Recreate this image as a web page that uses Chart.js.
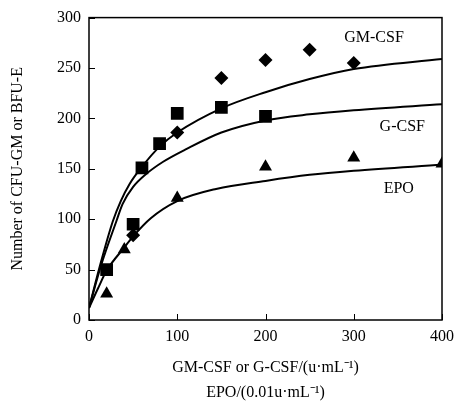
<!DOCTYPE html>
<html>
<head>
<meta charset="utf-8">
<script src="https://cdn.jsdelivr.net/npm/chart.js@4"></script>
<style>
  html, body { margin: 0; padding: 0; background: #fff; }
  #wrap { width: 464px; height: 409px; }
</style>
</head>
<body>
<div id="wrap"><canvas id="chart_colonies"></canvas></div>
<script>
// measured points (x = concentration, y = colonies)
var diamondX = [50, 100, 150, 200, 250, 300];
var diamondY = [84, 186, 240, 258, 268, 255];
var squareX = [20, 50, 60, 80, 100, 150, 200];
var squareY = [50, 95, 151, 175, 205, 211, 202];
var triangleX = [20, 40, 100, 200, 300, 400];
var triangleY = [26, 70, 121, 152, 161, 155];

// fitted curves
var upperCurveX = [0, 14, 27, 36, 46, 60, 80, 100, 150, 200, 250, 300, 400];
var upperCurveY = [12, 59, 98, 118, 135, 152, 172, 186, 210, 226, 239, 249, 259];
var middleCurveX = [0, 14, 31, 38, 50, 65, 84, 109, 150, 200, 250, 300, 400];
var middleCurveY = [12, 55, 98, 115, 132, 145, 157, 169, 186, 198, 204, 208, 214];
var lowerCurveX = [0, 10, 20, 40, 50, 70, 100, 144, 200, 250, 300, 400];
var lowerCurveY = [12, 31, 49, 72, 83, 101, 118, 130, 138, 144, 148, 154];

var curveNames = ['GM-CSF', 'G-CSF', 'EPO'];
var labelX = [323, 355, 351];
var labelY = [280, 192, 130];

var xTicks = [0, 100, 200, 300, 400];
var yTicks = [0, 50, 100, 150, 200, 250, 300];

function pts(xs, ys) {
    return xs.map(function (x, i) { return { x: x, y: ys[i] }; });
}

function curve(xs, ys) {
    return {
        type: 'line',
        data: pts(xs, ys),
        borderColor: '#000',
        borderWidth: 2,
        pointRadius: 0,
        fill: false,
        cubicInterpolationMode: 'monotone'
    };
}

function marks(xs, ys, style, r) {
    return {
        type: 'scatter',
        data: pts(xs, ys),
        pointStyle: style,
        pointRadius: r,
        backgroundColor: '#000',
        borderColor: '#000',
        borderWidth: 0
    };
}

var serif = 'Liberation Serif, Times New Roman, serif';

var chart_colonies = new Chart(document.getElementById('chart_colonies'), {
    type: 'scatter',
    data: {
        datasets: [
            curve(upperCurveX, upperCurveY),
            curve(middleCurveX, middleCurveY),
            curve(lowerCurveX, lowerCurveY),
            marks(diamondX, diamondY, 'rectRot', 7),
            marks(squareX, squareY, 'rect', 9),
            marks(triangleX, triangleY, 'triangle', 7.5)
        ]
    },
    options: {
        animation: false,
        responsive: true,
        maintainAspectRatio: false,
        layout: { padding: { top: 15, right: 22, left: 0, bottom: 0 } },
        plugins: {
            legend: { display: false },
            tooltip: { enabled: false }
        },
        scales: {
            x: {
                type: 'linear',
                min: 0,
                max: 400,
                afterBuildTicks: function (s) { s.ticks = xTicks.map(function (v) { return { value: v }; }); },
                afterFit: function (s) { s.height = 89; },
                grid: { display: false, drawTicks: false },
                border: { display: false },
                ticks: { color: '#000', padding: 7, font: { family: serif, size: 16 }, maxRotation: 0 },
                title: {
                    display: true,
                    text: ['GM-CSF or G-CSF/(u\u00b7mL\u207b\u00b9)', 'EPO/(0.01u\u00b7mL\u207b\u00b9)'],
                    color: '#000',
                    font: { family: serif, size: 16, lineHeight: 1.6 },
                    padding: { top: 0, bottom: 3 }
                }
            },
            y: {
                type: 'linear',
                min: 0,
                max: 300,
                afterBuildTicks: function (s) { s.ticks = yTicks.map(function (v) { return { value: v }; }); },
                afterFit: function (s) { s.width = 89; },
                grid: { display: false, drawTicks: false },
                border: { display: false },
                ticks: { color: '#000', padding: 8, font: { family: serif, size: 16 } },
                title: {
                    display: true,
                    text: 'Number of CFU-GM or BFU-E',
                    color: '#000',
                    font: { family: serif, size: 16 },
                    padding: { top: 8, bottom: 0 }
                }
            }
        }
    },
    plugins: [{
        id: 'frameAndLabels',
        beforeDraw: function (chart) {
            var ctx = chart.ctx;
            ctx.save();
            ctx.fillStyle = 'white';
            ctx.fillRect(0, 0, chart.width, chart.height);
            ctx.restore();
        },
        afterDraw: function (chart) {
            var ctx = chart.ctx, a = chart.chartArea;
            var xs = chart.scales.x, ys = chart.scales.y;
            ctx.save();
            ctx.strokeStyle = '#000';
            ctx.lineWidth = 1.5;
            ctx.strokeRect(a.left, a.top, a.right - a.left, a.bottom - a.top);
            // inward ticks
            ctx.beginPath();
            xTicks.forEach(function (v) {
                var px = Math.round(xs.getPixelForValue(v)) + 0.5;
                ctx.moveTo(px, a.bottom);
                ctx.lineTo(px, a.bottom - 6);
            });
            yTicks.forEach(function (v) {
                var py = Math.round(ys.getPixelForValue(v)) + 0.5;
                ctx.moveTo(a.left, py);
                ctx.lineTo(a.left + 6, py);
            });
            ctx.lineWidth = 1;
            ctx.stroke();
            // curve names
            ctx.fillStyle = '#000';
            ctx.font = '16px ' + serif;
            ctx.textAlign = 'center';
            ctx.textBaseline = 'middle';
            curveNames.forEach(function (t, i) {
                ctx.fillText(t, xs.getPixelForValue(labelX[i]), ys.getPixelForValue(labelY[i]));
            });
            ctx.restore();
        }
    }]
});
</script>
</body>
</html>
